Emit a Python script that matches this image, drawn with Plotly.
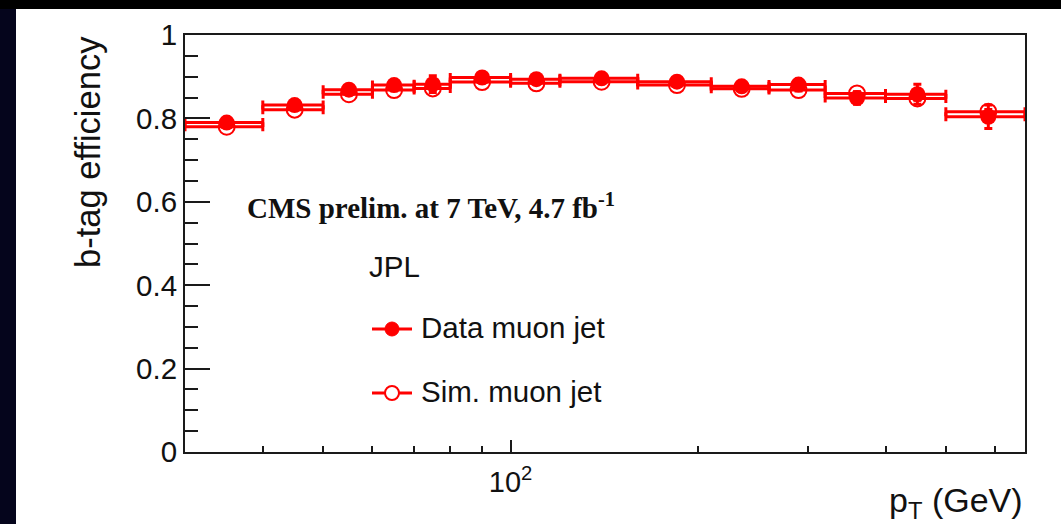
import math
import plotly.graph_objects as go

# ---------------- data ----------------
pt_edges = [30, 40, 50, 60, 70, 80, 100, 120, 160, 210, 260, 320, 400, 500, 670]
pt_centers = [35, 45, 55, 65, 75, 90, 110, 140, 185, 235, 290, 360, 450, 585]
data_eff = [0.790, 0.832, 0.869, 0.880, 0.882, 0.898, 0.894, 0.896, 0.888, 0.877, 0.881, 0.849, 0.858, 0.804]
data_err = [0.006, 0.007, 0.007, 0.008, 0.020, 0.006, 0.006, 0.006, 0.007, 0.008, 0.009, 0.015, 0.024, 0.028]
sim_eff = [0.780, 0.821, 0.858, 0.868, 0.872, 0.887, 0.884, 0.888, 0.880, 0.871, 0.868, 0.860, 0.848, 0.816]
sim_err = [0.002, 0.002, 0.002, 0.002, 0.002, 0.002, 0.002, 0.002, 0.002, 0.003, 0.003, 0.004, 0.005, 0.006]
y_ticks = [0, 0.2, 0.4, 0.6, 0.8, 1]
x_major = [100]
x_major_text = ["10<sup>2</sup>"]
x_minor = [40, 50, 60, 70, 80, 90, 200, 300, 400, 500, 600]

err_lo = [c - e for c, e in zip(pt_centers, pt_edges[:-1])]
err_hi = [e - c for c, e in zip(pt_centers, pt_edges[1:])]

RED = "#ff0000"
AX = "#1a1a1a"
SANS = "Liberation Sans, Arial, Helvetica, sans-serif"
SERIF = "Liberation Serif, Times New Roman, serif"

W, H = 1061, 524
L, R, T, B = 185, 36, 35, 72
PW, PH = W - L - R, H - T - B


def px(x):
    return (x - L) / PW


def py(y):
    return (H - B - y) / PH


fig = go.Figure()

fig.add_trace(go.Scatter(
    x=pt_centers, y=sim_eff, mode="markers", name="Sim. muon jet",
    marker=dict(symbol="circle-open", size=16, color=RED, line=dict(width=2, color=RED)),
    error_x=dict(type="data", symmetric=False, array=err_hi, arrayminus=err_lo,
                 color=RED, thickness=3, width=4.5),
    error_y=dict(type="data", array=sim_err, color=RED, thickness=2.5, width=4),
))
fig.add_trace(go.Scatter(
    x=pt_centers, y=data_eff, mode="markers", name="Data muon jet",
    marker=dict(symbol="circle", size=16, color=RED),
    error_x=dict(type="data", symmetric=False, array=err_hi, arrayminus=err_lo,
                 color=RED, thickness=3, width=4.5),
    error_y=dict(type="data", array=data_err, color=RED, thickness=3, width=4),
))

shapes = [
    # left navy band and white page
    dict(type="rect", xref="paper", yref="paper", x0=px(0), x1=px(16), y0=py(H + 5), y1=py(9),
         fillcolor="#05051c", line=dict(width=0), layer="below"),
    dict(type="rect", xref="paper", yref="paper", x0=px(16), x1=px(W + 5), y0=py(H + 5), y1=py(9),
         fillcolor="white", line=dict(width=0), layer="below"),
    # legend: data
    dict(type="line", xref="paper", yref="paper", x0=px(372), x1=px(412), y0=py(329), y1=py(329),
         line=dict(color=RED, width=3)),
    dict(type="circle", xref="paper", yref="paper", xsizemode="pixel", ysizemode="pixel",
         xanchor=px(392), yanchor=py(329), x0=-7, x1=7, y0=-7, y1=7,
         fillcolor=RED, line=dict(color=RED, width=1)),
    # legend: sim
    dict(type="line", xref="paper", yref="paper", x0=px(372), x1=px(412), y0=py(393), y1=py(393),
         line=dict(color=RED, width=3)),
    dict(type="circle", xref="paper", yref="paper", xsizemode="pixel", ysizemode="pixel",
         xanchor=px(392), yanchor=py(393), x0=-7, x1=7, y0=-7, y1=7,
         fillcolor="white", line=dict(color=RED, width=2)),
]

annotations = [
    dict(text="b-tag efficiency", xref="paper", yref="paper", x=px(88), y=py(152),
         xanchor="center", yanchor="middle", textangle=-90, showarrow=False,
         font=dict(family=SANS, size=34.5, color="#111")),
    dict(text="p<sub>T</sub> (GeV)", xref="paper", yref="paper", x=px(1025), y=py(503),
         xanchor="right", yanchor="middle", showarrow=False,
         font=dict(family=SANS, size=34, color="#111")),
    dict(text="<b>CMS prelim. at 7 TeV, 4.7 fb<sup>-1</sup></b>", xref="paper", yref="paper",
         x=px(245), y=py(206), xanchor="left", yanchor="middle", showarrow=False,
         font=dict(family=SERIF, size=29, color="#111")),
    dict(text="JPL", xref="paper", yref="paper", x=px(367), y=py(266),
         xanchor="left", yanchor="middle", showarrow=False,
         font=dict(family=SANS, size=29.5, color="#111")),
    dict(text="Data muon jet", xref="paper", yref="paper", x=px(419), y=py(327),
         xanchor="left", yanchor="middle", showarrow=False,
         font=dict(family=SANS, size=29.5, color="#111")),
    dict(text="Sim. muon jet", xref="paper", yref="paper", x=px(419), y=py(391),
         xanchor="left", yanchor="middle", showarrow=False,
         font=dict(family=SANS, size=29.5, color="#111")),
]

fig.update_layout(
    width=W, height=H,
    margin=dict(l=L, r=R, t=T, b=B, pad=0),
    paper_bgcolor="#000000", plot_bgcolor="white",
    showlegend=False,
    shapes=shapes, annotations=annotations,
    xaxis=dict(
        type="log", range=[math.log10(pt_edges[0]), math.log10(pt_edges[-1])],
        tickmode="array", tickvals=x_major, ticktext=x_major_text,
        ticks="inside", ticklen=12, tickwidth=2, tickcolor=AX,
        minor=dict(tickmode="array", tickvals=x_minor, ticks="inside", ticklen=6,
                   tickwidth=2, tickcolor=AX, showgrid=False),
        showgrid=False, zeroline=False, showline=True, linecolor=AX, linewidth=2, mirror=True,
        tickfont=dict(family=SANS, size=29, color="#111"),
        ticklabelstandoff=3,
    ),
    yaxis=dict(
        range=[0, 1], tickmode="array", tickvals=y_ticks,
        ticks="inside", ticklen=25, tickwidth=2, tickcolor=AX,
        minor=dict(dtick=0.05, tick0=0, ticks="inside", ticklen=13, tickwidth=2,
                   tickcolor=AX, showgrid=False),
        showgrid=False, zeroline=False, showline=True, linecolor=AX, linewidth=2, mirror=True,
        tickfont=dict(family=SANS, size=29.5, color="#111"),
    ),
)

fig.write_html("out.html")
